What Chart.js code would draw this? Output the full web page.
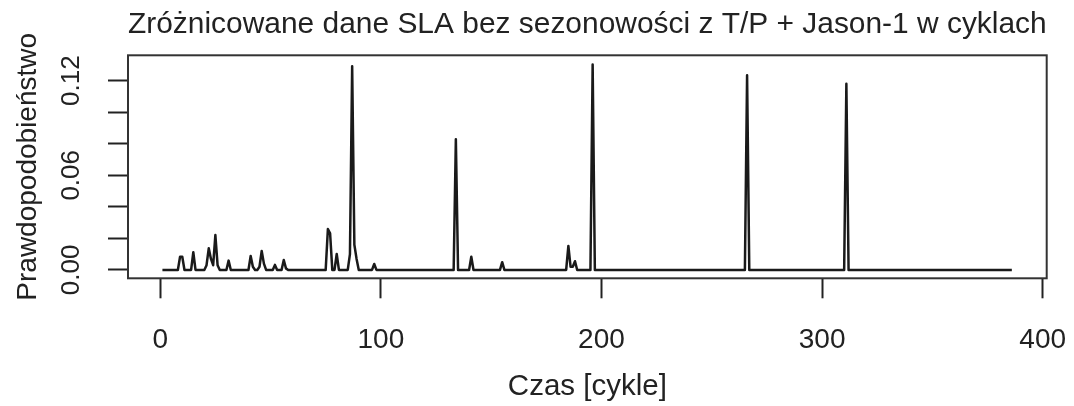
<!DOCTYPE html>
<html>
<head>
<meta charset="utf-8">
<script src="https://cdn.jsdelivr.net/npm/chart.js@4/dist/chart.umd.min.js"></script>
<style>
  body { margin: 0; background: #fff; }
  #wykres { width: 1074px; height: 406px; }
</style>
</head>
<body>
<div id="wykres"><canvas id="chartSLA" width="1074" height="406"></canvas></div>
<script>
// teksty wykresu
const tytul = 'Zróżnicowane dane SLA bez sezonowości z T/P + Jason-1 w cyklach';
const opisX = 'Czas [cykle]';
const opisY = 'Prawdopodobieństwo';

// zakres cykli
const pierwszyCykl = 1;
const ostatniCykl = 386;

// cykle z prawdopodobieństwem > 0 (w pozostałych cyklach = 0)
const cykleNiezerowe = [9, 10, 15, 21, 22, 23, 24, 25, 26, 31, 41, 42, 45, 46, 47, 52, 56, 57,
    76, 77, 80, 86, 87, 88, 89, 97, 134, 141, 155, 185, 186, 187, 188, 196, 266, 311];
const prawdopodobienstwa = [0.0084, 0.0084, 0.0112, 0.003, 0.0137, 0.007, 0.003, 0.0221, 0.003,
    0.0059, 0.0089, 0.002, 0.002, 0.012, 0.004, 0.0032, 0.0063, 0.001,
    0.0259, 0.0232, 0.0101, 0.01, 0.1292, 0.016, 0.007, 0.0038, 0.0828, 0.0084, 0.0049,
    0.0152, 0.002, 0.002, 0.0055, 0.1302, 0.1235, 0.118];

// podziałki osi
const ticksX = [0, 100, 200, 300, 400];
const ticksY = [0, 0.02, 0.04, 0.06, 0.08, 0.10, 0.12];
const etykietyY = ['0.00', '', '', '0.06', '', '', '0.12'];

// seria: zero wszędzie poza odczytanymi cyklami
let punkty = [];
for (let c = pierwszyCykl; c <= ostatniCykl; c++) {
    let i = cykleNiezerowe.indexOf(c);
    punkty.push({ x: c, y: i >= 0 ? prawdopodobienstwa[i] : 0 });
}

const kolor = '#222';
const font = 'Liberation Sans, Arial, Helvetica, sans-serif';

// ramka wokół obszaru wykresu (jak box() w R)
const ramka = {
    id: 'ramka',
    afterDraw(chart) {
        const a = chart.chartArea;
        const ctx = chart.ctx;
        ctx.save();
        ctx.strokeStyle = '#333';
        ctx.lineWidth = 2;
        ctx.strokeRect(a.left, a.top, a.right - a.left, a.bottom - a.top);
        ctx.restore();
    }
};

function plotarWykres() {
    var ctx = document.getElementById('chartSLA').getContext('2d');
    new Chart(ctx, {
        type: 'line',
        data: {
            datasets: [{
                data: punkty,
                borderColor: '#1a1a1a',
                borderWidth: 2.5,
                borderJoinStyle: 'round',
                pointRadius: 0,
                tension: 0,
                fill: false
            }]
        },
        options: {
            responsive: false,
            animation: false,
            events: [],
            layout: { padding: { left: 0, right: 27.3, top: 0, bottom: 0 } },
            plugins: {
                legend: { display: false },
                tooltip: { enabled: false },
                title: {
                    display: true,
                    text: tytul,
                    fullSize: false,
                    color: kolor,
                    font: { family: font, size: 30, weight: 'normal' },
                    padding: { top: 7, bottom: 12.3 }
                }
            },
            scales: {
                x: {
                    type: 'linear',
                    bounds: 'data',
                    min: -14.6,
                    max: 401.8,
                    afterBuildTicks: s => { s.ticks = ticksX.map(v => ({ value: v })); },
                    afterFit: s => { s.height = 406 - 278.3; s.paddingLeft = 0; s.paddingRight = 0; },
                    border: { display: false },
                    grid: { drawOnChartArea: false, drawTicks: true, tickLength: 20, tickColor: kolor, tickWidth: 2 },
                    ticks: {
                        color: kolor,
                        padding: 25,
                        maxRotation: 0,
                        autoSkip: false,
                        font: { family: font, size: 28 },
                        callback: v => String(v)
                    },
                    title: {
                        display: true,
                        text: opisX,
                        color: kolor,
                        font: { family: font, size: 29.5 },
                        padding: { top: 0, bottom: 1 }
                    }
                },
                y: {
                    type: 'linear',
                    bounds: 'data',
                    min: -0.0053,
                    max: 0.1361,
                    afterBuildTicks: s => { s.ticks = ticksY.map(v => ({ value: v })); },
                    afterFit: s => { s.width = 128; s.paddingTop = 0; s.paddingBottom = 0; },
                    border: { display: false },
                    grid: { drawOnChartArea: false, drawTicks: true, tickLength: 20, tickColor: kolor, tickWidth: 2 },
                    ticks: {
                        color: kolor,
                        padding: 11,
                        minRotation: 90,
                        maxRotation: 90,
                        autoSkip: false,
                        crossAlign: 'center',
                        font: { family: font, size: 26 },
                        callback: v => {
                            let i = ticksY.findIndex(t => Math.abs(t - v) < 1e-9);
                            return i >= 0 ? etykietyY[i] : '';
                        }
                    },
                    title: {
                        display: true,
                        text: opisY,
                        color: kolor,
                        font: { family: font, size: 28 },
                        padding: { top: 11, bottom: 0 }
                    }
                }
            }
        },
        plugins: [ramka]
    });
}

plotarWykres();
</script>
</body>
</html>
